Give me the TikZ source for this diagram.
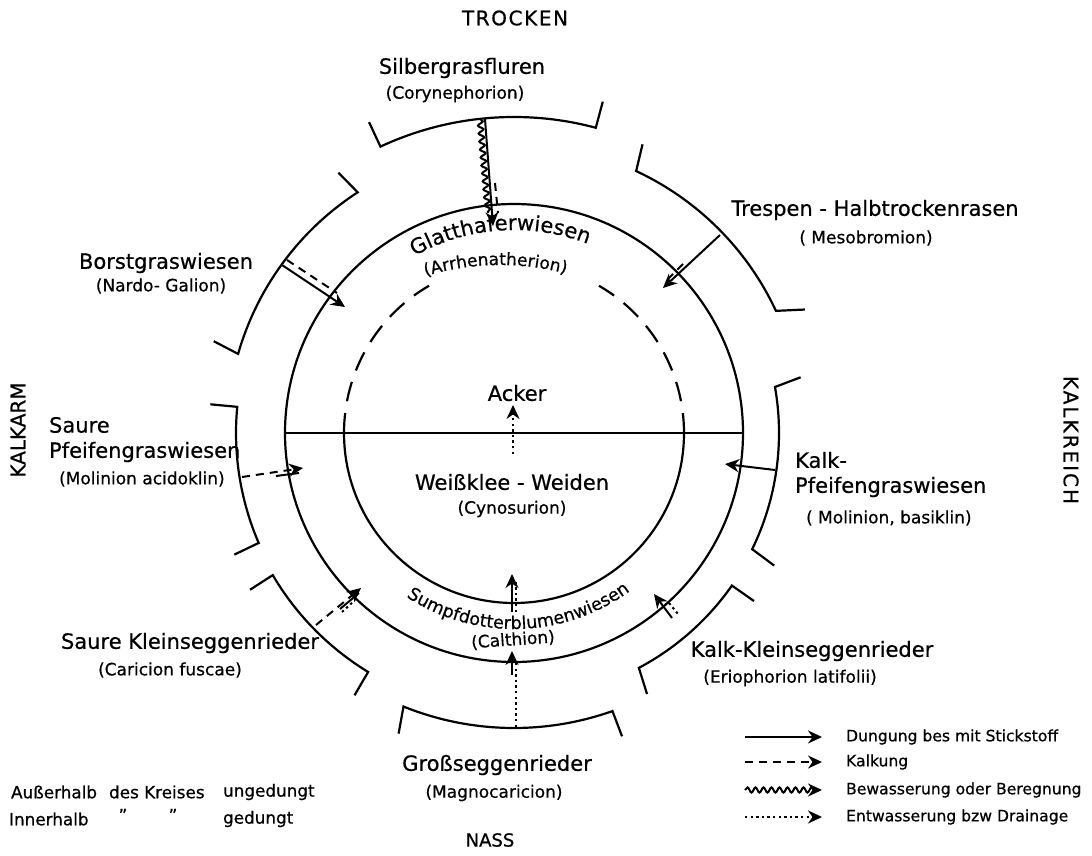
\documentclass[tikz,border=0pt]{standalone}
\usepackage{fontspec}
\setmainfont{DejaVu Sans}[UprightFeatures={FakeBold=0.6}]
\usetikzlibrary{arrows.meta,decorations.pathmorphing,decorations.text,calc}
\begin{document}
\begin{tikzpicture}[x=0.5pt,y=0.5pt,line width=1.1pt,
  lab/.style={inner sep=0pt,font=\fontsize{10.5}{12}\selectfont},
  sub/.style={inner sep=0pt,font=\fontsize{8.5}{10}\selectfont},
  leg/.style={inner sep=0pt,font=\fontsize{8.4}{10}\selectfont},
  legr/.style={inner sep=0pt,font=\fontsize{7.8}{10}\selectfont},
  capt/.style={inner sep=0pt,font=\fontsize{10}{12}\selectfont},
  tipA/.tip={Stealth[length=7pt,width=6.5pt]},
  arr/.style={line width=1pt,-tipA},
  wave/.style={line width=1pt,decorate,decoration={snake,amplitude=1.3pt,segment length=4pt,post length=0pt}},
  wavearr/.style={line width=1pt,decorate,decoration={snake,amplitude=1.3pt,segment length=4pt,post length=3pt}},
  dotl/.style={line width=1pt,dash pattern=on 1.2pt off 1.6pt},
  dsh/.style={line width=1pt,dash pattern=on 4pt off 3pt},
]
\fill[white] (0,0) rectangle (1092,-856);
\useasboundingbox (0,0) rectangle (1092,-856);
\coordinate (C) at (514,-433);

% main circles
\draw (C) circle[radius=229];
\draw ($(C)+(180:170)$) arc[start angle=180,end angle=360,radius=170];
\draw[dash pattern=on 10pt off 6pt] ($(C)+(0:170)$) arc[start angle=0,end angle=60,radius=170];
\draw[dash pattern=on 10pt off 6pt] ($(C)+(180:170)$) arc[start angle=180,end angle=120,radius=170];
\draw[line width=0.8pt] ($(C)+(180:229)$) -- ($(C)+(0:229)$);

% outer arcs with ticks
\foreach \a/\b/\r/\ta/\tb in {75/115/316/75/115, 25/65/289/23/66, -26/10/265/-27/11,
  -62/-35/266/-63/-35, -112/-70.5/295/-111/-70.4, 210.5/238.6/280/210.7/238.7,
  174.6/203.3/278/174.6/203.5, 123/164/287/124/163}{
  \pgfmathsetmacro\ro{\r+27}
  \draw ($(C)+(\ta:\ro)$) -- ($(C)+(\a:\r)$) arc[start angle=\a,end angle=\b,radius=\r] -- ($(C)+(\tb:\ro)$);
}

% curved texts
\path[decorate,decoration={text along path,text align=center,
  text={|\fontsize{10.5}{12}\selectfont|Glatthaferwiesen}}]
  ($(C)+(150:203)$) arc[start angle=150,end angle=38,radius=203];
\coordinate (C2) at (500,-520);
\path[decorate,decoration={text along path,text align=center,
  text={|\fontsize{8.5}{10}\selectfont|(Arrhenatherion)}}]
  ($(C2)+(140:255)$) arc[start angle=140,end angle=42,radius=255];
\path[decorate,decoration={text along path,text align=center,
  text={|\fontsize{8.8}{10}\selectfont|Sumpfdotterblumenwiesen}}]
  ($(C)+(-140:196)$) arc[start angle=-140,end angle=-37,radius=196];

% labels
\node[capt,font=\fontsize{10}{12}\selectfont\addfontfeature{LetterSpace=8}] (trocken) at (515,-18) {TROCKEN};
\node[capt,font=\fontsize{9}{11}\selectfont] (nass) at (490,-840) {NASS};
\node[capt,rotate=90,font=\fontsize{10}{12}\selectfont] (kalkarm) at (18,-430) {KALKARM};
\node[capt,rotate=-90,font=\fontsize{10}{12}\selectfont\addfontfeature{LetterSpace=10}] (kalkreich) at (1071,-440) {KALKREICH};

\node[lab] (silb) at (462,-68) {Silbergrasfluren};
\node[sub] (silbs) at (455,-94) {(Corynephorion)};
\node[lab] (tresp) at (875,-210) {Trespen - Halbtrockenrasen};
\node[sub] (tresps) at (866,-238) {( Mesobromion)};
\node[lab] (borst) at (166,-263) {Borstgraswiesen};
\node[sub] (borsts) at (161,-286) {(Nardo- Galion)};
\node[lab,anchor=west] (sp1) at (48,-425) {Saure};
\node[lab,anchor=west] (sp2) at (48,-452) {Pfeifengraswiesen};
\node[sub,anchor=west] (sps) at (58,-479) {(Molinion acidoklin)};
\node[lab,anchor=west] (kp1) at (794,-460) {Kalk-};
\node[lab,anchor=west] (kp2) at (794,-487) {Pfeifengraswiesen};
\node[sub,anchor=west] (kps) at (805,-518) {( Molinion, basiklin)};
\node[lab] (sk) at (190,-643) {Saure Kleinseggenrieder};
\node[sub] (sks) at (170,-670) {(Caricion fuscae)};
\node[lab] (kk) at (812,-651) {Kalk-Kleinseggenrieder};
\node[sub] (kks) at (790,-678) {(Eriophorion latifolii)};
\node[lab] (gs) at (497,-765) {Großseggenrieder};
\node[sub] (gss) at (494,-793) {(Magnocaricion)};
\node[lab] (acker) at (517,-393) {Acker};
\node[lab] (weiss) at (512,-482) {Weißklee - Weiden};
\node[sub] (weisss) at (512,-509) {(Cynosurion)};
\node[sub,rotate=4] (calth) at (513,-640) {(Calthion)};

% arrows: Silbergrasfluren
\coordinate (s1) at (485,-119); \coordinate (s2) at (493,-226);
\coordinate (w1) at (480,-119); \coordinate (w2) at (488,-213);
\coordinate (d1) at (495,-183); \coordinate (d2) at (498,-213);
\draw[wave] (w1) -- (w2);
\draw[dsh] (d1) -- (d2);
\draw[arr] (s1) -- (s2);
% Trespen
\coordinate (t1) at (720,-235); \coordinate (t2) at (663,-288);
\coordinate (t3) at (683,-264); \coordinate (t4) at (668,-279);
\draw[arr] (t1) -- (t2);
\draw[dsh] (t3) -- (t4);
% Borstgras
\coordinate (b1) at (282,-265); \coordinate (b2) at (345,-307);
\coordinate (b3) at (287,-260); \coordinate (b4) at (337,-293);
\draw[arr] (b1) -- (b2);
\draw[dsh] (b3) -- (b4);
% Saure Pfeifengras
\coordinate (p1) at (242,-477); \coordinate (p2) at (303,-468);
\coordinate (p3) at (276,-476); \coordinate (p4) at (299,-473);
\draw[dsh,-tipA] (p1) -- (p2);
\draw[line width=1pt] (p3) -- (p4);
% Kalk-Pfeifengras
\coordinate (k1) at (775,-470); \coordinate (k2) at (725,-464);
\draw[arr] (k1) -- (k2);
% Saure Kleinseggen
\coordinate (q1) at (316,-625); \coordinate (q2) at (361,-588);
\coordinate (q3) at (340,-609); \coordinate (q4) at (359,-593);
\coordinate (q5) at (342,-612); \coordinate (q6) at (355,-600);
\draw[dsh,-tipA] (q1) -- (q2);
\draw[line width=1pt] (q3) -- (q4);
\draw[dotl] (q5) -- (q6);
% Kalk-Kleinseggen
\coordinate (r1) at (672,-618); \coordinate (r2) at (654,-594);
\coordinate (r3) at (669,-603); \coordinate (r4) at (678,-614);
\draw[arr] (r1) -- (r2);
\draw[dotl] (r3) -- (r4);
% Grossseggen
\coordinate (g1) at (516,-727); \coordinate (g2) at (516,-660);
\coordinate (g3) at (512,-675); \coordinate (g4) at (512,-651);
\draw[dotl] (g1) -- (g2);
\draw[arr] (g3) -- (g4);
\coordinate (g5) at (512,-612); \coordinate (g6) at (512,-574);
\coordinate (g7) at (516,-612); \coordinate (g8) at (516,-581);
\draw[arr] (g5) -- (g6);
\draw[dotl] (g7) -- (g8);
% Acker
\coordinate (a1) at (513,-454); \coordinate (a2) at (513,-405);
\draw[dotl,-tipA] (a1) -- (a2);

% legend right
\coordinate (l1a) at (745,-737); \coordinate (l1b) at (822,-737);
\coordinate (l2a) at (745,-762); \coordinate (l2b) at (822,-762);
\coordinate (l3a) at (745,-790); \coordinate (l3b) at (822,-790);
\coordinate (l4a) at (745,-817); \coordinate (l4b) at (822,-817);
\draw[arr] (l1a) -- (l1b);
\draw[dsh,-tipA] (l2a) -- (l2b);
\draw[wavearr,-tipA] (l3a) -- (l3b);
\draw[dotl,-tipA] (l4a) -- (l4b);
\node[legr,anchor=west] (lt1) at (845,-737) {Dungung bes mit Stickstoff};
\node[legr,anchor=west] (lt2) at (845,-762) {Kalkung};
\node[legr,anchor=west] (lt3) at (845,-790) {Bewasserung oder Beregnung};
\node[legr,anchor=west] (lt4) at (845,-817) {Entwasserung bzw Drainage};

% legend left
\node[leg,anchor=west] (ae) at (10,-792) {Außerhalb};
\node[leg,anchor=west] (dk) at (108,-792) {des Kreises};
\node[leg,anchor=west] (ug) at (222,-792) {ungedungt};
\node[leg,anchor=west] (ih) at (8,-819) {Innerhalb};
\node[leg] (q1t) at (123,-815) {''};
\node[leg] (q2t) at (173,-815) {''};
\node[leg,anchor=west] (gd) at (222,-819) {gedungt};
\end{tikzpicture}
\end{document}
